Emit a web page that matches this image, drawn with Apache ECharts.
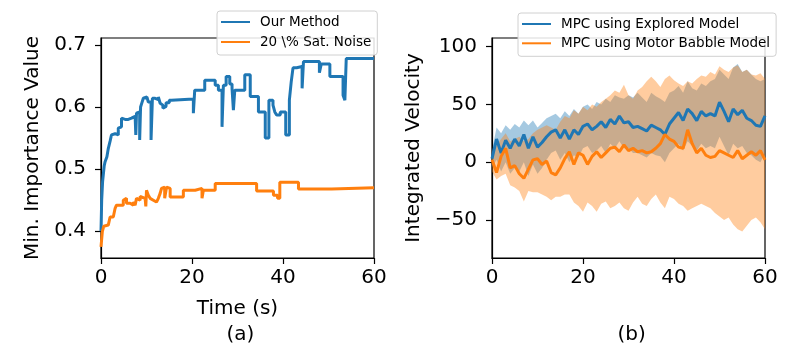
<!DOCTYPE html>
<html><head><meta charset="utf-8">
<script src="https://cdn.jsdelivr.net/npm/echarts@6/dist/echarts.min.js"></script>
<style>html,body{margin:0;padding:0;background:#fff}#c{width:799px;height:354px}</style>
</head><body><div id="c"></div>
<script>
// ---- data ----
const xTicks = [0, 20, 40, 60];
const leftYTicks = [0.4, 0.5, 0.6, 0.7];
const rightYTicks = [-50, 0, 50, 100];

const ourT = [0,0.15,0.35,0.7,0.9,1.3,1.6,2.0,2.3,2.7,3.1,3.4,3.8,4.2,4.5,4.9,5.3,6.0,6.7,7.1,7.5,7.65,7.8,8.2,8.5,8.7,9.0,9.3,9.7,10.1,10.4,10.8,11.0,11.3,11.9,12.2,12.6,13.0,13.3,13.6,14.0,14.3,15.0,15.5,20.3,20.6,22.8,25.1,25.8,26.6,26.9,27.5,28.3,28.8,29.1,29.4,31.6,32.8,34.6,36.1,36.9,37.8,38.2,38.6,39.4,40.6,41.4,41.8,42.2,43.0,44.2,44.5,48.0,48.4,50.3,53.2,53.6,53.9,60];
const ourV = [0.40,0.45,0.48,0.505,0.512,0.52,0.533,0.545,0.555,0.557,0.56,0.555,0.566,0.568,0.582,0.58,0.58,0.582,0.58,0.585,0.587,0.555,0.59,0.592,0.547,0.60,0.607,0.614,0.616,0.614,0.608,0.608,0.547,0.614,0.616,0.612,0.616,0.606,0.603,0.598,0.601,0.607,0.611,0.613,0.59,0.627,0.643,0.635,0.627,0.568,0.635,0.649,0.637,0.63,0.595,0.627,0.652,0.617,0.592,0.55,0.611,0.603,0.592,0.587,0.592,0.555,0.611,0.64,0.663,0.665,0.63,0.673,0.655,0.669,0.649,0.619,0.611,0.678,0.678];

const noiseT = [0,0.3,0.6,1.0,1.6,2.0,2.7,3.1,3.4,4.2,4.5,4.9,5.3,5.6,6.4,6.7,7.1,7.5,7.8,8.2,8.6,8.9,9.7,9.85,10.0,10.4,10.8,11.1,11.5,12.2,12.6,13.0,13.3,13.7,14.0,14.4,14.8,15.2,18.1,20.7,22.2,22.5,25.1,34.2,37.9,38.8,39.3,43.4,50.7,60];
const noiseV = [0.375,0.40,0.408,0.41,0.413,0.423,0.425,0.437,0.442,0.44,0.442,0.45,0.453,0.445,0.447,0.442,0.447,0.442,0.453,0.45,0.456,0.453,0.45,0.44,0.466,0.458,0.453,0.45,0.447,0.445,0.453,0.461,0.469,0.471,0.453,0.471,0.469,0.455,0.466,0.469,0.453,0.466,0.477,0.465,0.458,0.453,0.479,0.468,0.47,0.47];

const velT = [0,1,2,3,4,5,6,7,8,9,10,11,12,13,14,15,16,17,18,19,20,21,22,23,24,25,26,27,28,29,30,31,32,33,34,35,36,37,38,39,40,41,42,43,44,45,46,47,48,49,50,51,52,53,54,55,56,57,58,59,60];
const exploredMean = [3,20,8,19,12,20,14,24,12,22,13,17,22,26,28,21,28,20,28,24,31,33,28,31,35,30,37,33,40,34,35,30,31,29,27,32,30,28,24,33,38,43,36,46,42,36,44,40,42,40,52,44,35,46,41,45,38,36,32,31,40];
const exploredHigh = [10,30,25,32,28,33,30,36,32,36,30,34,38,40,42,38,44,40,46,42,48,50,46,52,50,55,52,58,56,55,58,56,60,56,52,60,57,55,52,60,62,66,60,70,64,62,68,66,70,72,80,76,72,82,85,78,80,76,72,70,72];
const exploredLow = [-5,2,-8,0,-10,-5,-8,0,-12,-2,-10,-5,2,8,10,2,8,0,6,4,12,14,8,10,14,8,16,12,18,12,12,8,8,6,4,8,6,5,0,8,12,16,10,18,14,10,16,12,14,12,22,14,6,16,12,14,8,6,2,0,8];
const babbleMean = [2,-9,5,12,-5,-3,-10,-14,-6,2,3,-2,1,-9,-11,-5,3,9,-2,8,6,-2,5,9,4,8,12,13,9,15,10,12,9,10,8,9,12,16,24,20,18,13,12,28,16,8,12,6,4,5,10,8,6,4,10,3,6,9,6,10,2];
const babbleHigh = [8,15,20,25,18,20,22,18,20,25,28,30,32,30,28,35,40,38,45,42,48,45,50,48,52,55,58,62,60,67,58,55,62,65,70,74,70,65,72,75,71,68,66,70,68,72,75,74,78,76,83,80,78,82,84,78,80,76,75,77,72];
const babbleLow = [-8,-15,-12,-10,-20,-22,-25,-34,-25,-26,-26,-28,-30,-33,-30,-30,-28,-28,-35,-38,-43,-35,-38,-43,-36,-34,-40,-38,-35,-40,-42,-35,-30,-36,-38,-32,-28,-35,-40,-30,-32,-36,-38,-42,-40,-38,-36,-38,-40,-44,-47,-50,-48,-54,-58,-60,-55,-50,-48,-52,-58];

// ---- build ----
const pairs = (xs, ys) => xs.map((x, i) => [x, ys[i]]);
const BLUE = '#1f77b4', ORANGE = '#ff7f0e';
const FONT = 'DejaVu Sans';

function bandSeries(name, xs, lo, hi, fill) {
  return {
    name: name, type: 'custom', xAxisIndex: 1, yAxisIndex: 1, silent: true,
    data: xs.map((x, i) => [x, lo[i], hi[i]]),
    encode: { x: 0, y: [1, 2] },
    renderItem: function (params, api) {
      if (params.dataIndex !== 0) return null;
      const pts = [];
      for (let i = 0; i < xs.length; i++) pts.push(api.coord([xs[i], hi[i]]));
      for (let i = xs.length - 1; i >= 0; i--) pts.push(api.coord([xs[i], lo[i]]));
      return { type: 'polygon', shape: { points: pts }, style: { fill: fill } };
    }
  };
}

function xAxisCfg(idx, name) {
  return {
    type: 'value', gridIndex: idx, min: 0, max: 60,
    name: name, nameLocation: 'middle', nameGap: 41,
    nameTextStyle: { fontFamily: FONT, fontSize: 20, color: '#000' },
    axisLine: { show: true, onZero: false, lineStyle: { color: '#000', width: 1.2 } },
    axisTick: { show: true, length: 6, lineStyle: { color: '#000', width: 1.2 }, customValues: xTicks },
    axisLabel: { show: true, margin: 10, fontFamily: FONT, fontSize: 20, color: '#000', customValues: xTicks },
    splitLine: { show: false }
  };
}
function yAxisCfg(idx, name, min, max, ticks, gap, fmt) {
  return {
    type: 'value', gridIndex: idx, min: min, max: max,
    name: name, nameLocation: 'middle', nameGap: gap,
    nameTextStyle: { fontFamily: FONT, fontSize: 20, color: '#000' },
    axisLine: { show: true, onZero: false, lineStyle: { color: '#000', width: 1.2 } },
    axisTick: { show: true, length: 6, lineStyle: { color: '#000', width: 1.2 }, customValues: ticks },
    axisLabel: { show: true, margin: 15, fontFamily: FONT, fontSize: 20, color: '#000', customValues: ticks, formatter: fmt },
    splitLine: { show: false }
  };
}

const chart = echarts.init(document.getElementById('c'), null, { renderer: 'canvas' });
chart.setOption({
  animation: false,
  backgroundColor: '#fff',
  textStyle: { fontFamily: FONT },
  grid: [
    { left: 101, width: 273, top: 38, height: 220, show: true, borderColor: '#000', borderWidth: 1.2, backgroundColor: 'transparent' },
    { left: 492, width: 273, top: 38, height: 220, show: true, borderColor: '#000', borderWidth: 1.2, backgroundColor: 'transparent' }
  ],
  xAxis: [xAxisCfg(0, 'Time (s)'), xAxisCfg(1, '')],
  yAxis: [
    yAxisCfg(0, 'Min. Importance Value', 0.357, 0.711, leftYTicks, 58, v => v.toFixed(1)),
    yAxisCfg(1, 'Integrated Velocity', -83, 107.5, rightYTicks, 68, v => (v < 0 ? '\u2212' + Math.abs(v) : String(v)))
  ],
  legend: [
    {
      orient: 'vertical', left: 217, top: 11, padding: [3, 6, 5, 4], itemGap: 4,
      itemWidth: 29, itemHeight: 2, icon: 'rect',
      backgroundColor: 'rgba(255,255,255,0.85)', borderColor: '#d0d0d0', borderWidth: 1, borderRadius: 3,
      textStyle: { fontFamily: FONT, fontSize: 13.5, color: '#000', lineHeight: 16, padding: [0, 0, 0, 5] },
      data: ['Our Method', '20 \\% Sat. Noise']
    },
    {
      orient: 'vertical', left: 518, top: 13, padding: [3, 6, 5, 4], itemGap: 3.3,
      itemWidth: 29, itemHeight: 2, icon: 'rect',
      backgroundColor: 'rgba(255,255,255,0.85)', borderColor: '#d0d0d0', borderWidth: 1, borderRadius: 3,
      textStyle: { fontFamily: FONT, fontSize: 13.5, color: '#000', lineHeight: 16, padding: [0, 0, 0, 5] },
      data: ['MPC using Explored Model', 'MPC using Motor Babble Model']
    }
  ],
  graphic: [
    { type: 'text', left: 240.5 - 14, top: 325, style: { text: '(a)', font: '20px "DejaVu Sans"', fill: '#000' } },
    { type: 'text', left: 631.5 - 14, top: 325, style: { text: '(b)', font: '20px "DejaVu Sans"', fill: '#000' } }
  ],
  series: [
    { name: 'Our Method', type: 'line', xAxisIndex: 0, yAxisIndex: 0, step: 'end', showSymbol: false, symbol: 'none',
      color: BLUE, lineStyle: { width: 3, color: BLUE }, data: pairs(ourT, ourV) },
    { name: '20 \\% Sat. Noise', type: 'line', xAxisIndex: 0, yAxisIndex: 0, step: 'end', showSymbol: false, symbol: 'none',
      color: ORANGE, lineStyle: { width: 3, color: ORANGE }, data: pairs(noiseT, noiseV) },

    bandSeries('exploredBand', velT, exploredLow, exploredHigh, 'rgba(31,119,180,0.4)'),
    bandSeries('babbleBand', velT, babbleLow, babbleHigh, 'rgba(255,127,14,0.4)'),

    { name: 'MPC using Explored Model', type: 'line', xAxisIndex: 1, yAxisIndex: 1, symbol: 'none',
      color: BLUE, lineStyle: { width: 3, color: BLUE }, data: pairs(velT, exploredMean) },
    { name: 'MPC using Motor Babble Model', type: 'line', xAxisIndex: 1, yAxisIndex: 1, symbol: 'none',
      color: ORANGE, lineStyle: { width: 3, color: ORANGE }, data: pairs(velT, babbleMean) }
  ]
});
</script></body></html>
